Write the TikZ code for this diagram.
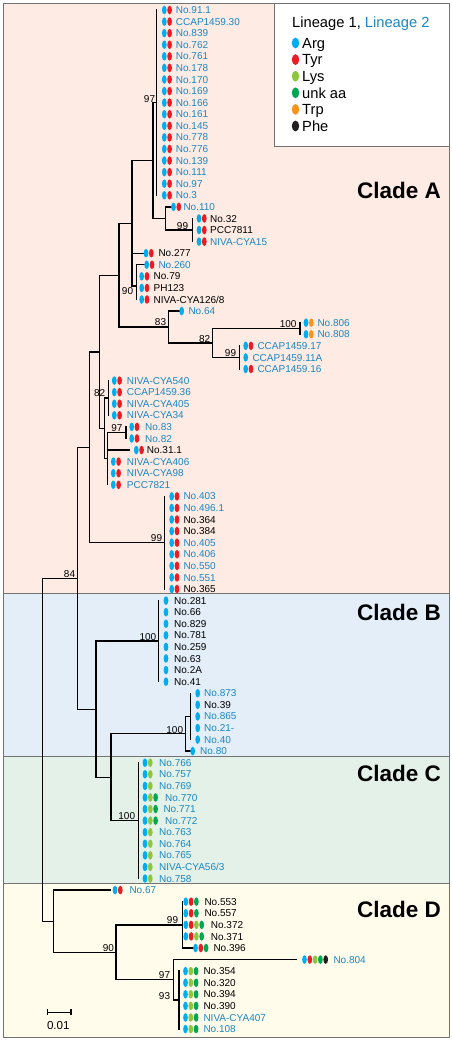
\documentclass[tikz,border=0pt]{standalone}
\usepackage{fontspec}
\setmainfont{Liberation Sans}
\definecolor{cA}{RGB}{0,174,239}
\definecolor{cT}{RGB}{237,28,36}
\definecolor{cL}{RGB}{141,198,63}
\definecolor{cU}{RGB}{0,166,81}
\definecolor{cW}{RGB}{247,148,29}
\definecolor{cF}{RGB}{35,31,32}
\definecolor{lb}{RGB}{25,135,195}
\definecolor{bgA}{RGB}{253,235,228}
\definecolor{bgB}{RGB}{227,238,249}
\definecolor{bgC}{RGB}{228,241,232}
\definecolor{bgD}{RGB}{255,252,235}
\definecolor{frm}{RGB}{115,115,115}
\newcommand\leaf[7]{%
  \pgfmathsetmacro\yy{10+11.58*#2}%
  \foreach \c [count=\k from 0] in {#4}{\fill[\c] ({#3+5.3*\k},\yy) ellipse [x radius=2.35, y radius=4.3];}%
  \node[tiplab,text=#7] (#1) at (#5,\yy+3.6) {#6};%
}
\begin{document}
\begin{tikzpicture}[x=1pt,y=-1pt,
  br/.style={line width=1.35pt, line cap=rect},
  tiplab/.style={font=\fontsize{10}{12}\selectfont, anchor=base west, inner sep=0pt},
  bs/.style={font=\fontsize{10}{12}\selectfont, anchor=base east, inner sep=0pt},
  cladelab/.style={font=\fontsize{22.5}{26}\selectfont\bfseries, anchor=base east, inner sep=0pt},
  leglab/.style={font=\fontsize{14.7}{17}\selectfont, anchor=base west, inner sep=0pt}]
\useasboundingbox (0,0) rectangle (452,1041);
\fill[white] (0,0) rectangle (452,1041);
% clade backgrounds
\fill[bgA] (3,3) rectangle (449,593);
\fill[bgB] (3,593) rectangle (449,756);
\fill[bgC] (3,756) rectangle (449,883);
\fill[bgD] (3,883) rectangle (449,1037);
\draw[frm, line width=0.9pt] (3,593) -- (449,593) (3,756) -- (449,756) (3,883) -- (449,883);
\draw[frm, line width=0.9pt] (3,3) rectangle (449,1037);
% clade labels
\node[cladelab] (cla) at (441,198) {Clade A};
\node[cladelab] (clb) at (441,620) {Clade B};
\node[cladelab] (clc) at (441,781) {Clade C};
\node[cladelab] (cld) at (441,917) {Clade D};
% legend
\node[draw=frm, fill=white, line width=0.9pt, inner sep=0pt, minimum width=175, minimum height=143, anchor=north west] (legend) at (274,3) {};
\node[leglab] (lhead) at (292,27.5) {Lineage 1, \textcolor{lb}{Lineage 2}};
\foreach \col/\txt [count=\k from 0] in {cA/Arg, cT/Tyr, cL/Lys, cU/unk aa, cW/Trp, cF/Phe}{
  \pgfmathsetmacro\ly{43+16.6*\k}
  \fill[\col] (295.5,\ly) ellipse [x radius=3.7, y radius=5.4];
  \node[leglab] (leg\k) at (302,\ly+5.4) {\txt};
}
% ---------------- tree ----------------
\coordinate (G1) at (156.7,102.6);
\coordinate (Na) at (153,160.5);
\coordinate (Nb) at (165.7,218.44);
\coordinate (N99a) at (192.7,230.02);
\coordinate (Nc) at (132,223.3);
\coordinate (N90) at (136.7,286);
\coordinate (Nd) at (119,275.5);
\coordinate (N83) at (168.3,327.0);
\coordinate (N82b) at (212.7,342.9);
\coordinate (N100a) at (300,328.45);
\coordinate (N99b) at (239.3,357.4);
\coordinate (Ne) at (99.5,351.9);
\coordinate (N82) at (104.3,428.3);
\coordinate (Nup) at (108.3,397.93);
\coordinate (Nlo) at (107.3,458.7);
\coordinate (N97a) at (126,432.67);
\coordinate (Nf) at (89.3,447.3);
\coordinate (N99c) at (164.3,542.68);
\coordinate (N84) at (77.7,578.2);
\coordinate (Ng) at (96,709.2);
\coordinate (NB1) at (158.3,641.1);
\coordinate (Nh) at (111,777.2);
\coordinate (NB2) at (185.7,733.8);
\coordinate (NB3) at (190.7,716.4);
\coordinate (NC) at (138.3,820.6);
\coordinate (R) at (42.3,749.7);
\coordinate (ND) at (53.3,921.2);
\coordinate (N90d) at (116,952.3);
\coordinate (N99d) at (182.7,924.82);
\coordinate (N97d) at (173.3,979.8);
\coordinate (N93) at (179,1000.1);
% free ends of tip branches
\coordinate (e110) at (171,206.86);
\coordinate (e277) at (144,253.18);
\coordinate (e260) at (144,264.76);
\coordinate (e64) at (179,311.08);
\coordinate (e311) at (129,450.04);
\coordinate (e80) at (190,751.12);
\coordinate (e67) at (110,890.08);
\coordinate (e396) at (193,947.98);
\coordinate (e804) at (296.7,959.56);
\begin{scope}[br]
\draw (156.7,10) -- (156.7,195.28);
\draw (Na) |- (G1);
\draw (Na) |- (Nb);
\draw (Nb) |- (e110);
\draw (Nb) |- (N99a);
\draw (192.7,218.44) -- (192.7,241.6);
\draw (Nc) |- (Na);
\draw (Nc) |- (e277);
\draw (Nc) |- (N90);
\draw (136.7,264.76) -- (136.7,299.5);
\draw (136.7,264.76) -- (e260);
\draw (Nd) |- (Nc);
\draw (Nd) |- (N83);
\draw (N83) |- (e64);
\draw (N83) |- (N82b);
\draw (N82b) |- (N100a);
\draw (N82b) |- (N99b);
\draw (300,322.66) -- (300,334.24);
\draw (239.3,345.82) -- (239.3,368.98);
\draw (Ne) |- (Nd);
\draw (Ne) |- (N82);
\draw (N82) |- (Nup);
\draw (N82) |- (Nlo);
\draw (108.3,380.56) -- (108.3,415.3);
\draw (Nlo) |- (N97a);
\draw (Nlo) |- (e311);
\draw (107.3,458.7) -- (107.3,484.78);
\draw (126,426.88) -- (126,438.46);
\draw (Nf) |- (Ne);
\draw (Nf) |- (N99c);
\draw (164.3,496.36) -- (164.3,589);
\draw (N84) |- (Nf);
\draw (N84) |- (Ng);
\draw (Ng) |- (NB1);
\draw (Ng) |- (Nh);
\draw (158.3,600.58) -- (158.3,681.64);
\draw (Nh) |- (NB2);
\draw (Nh) |- (NC);
\draw (NB2) |- (NB3);
\draw (NB2) |- (e80);
\draw (190.7,693.22) -- (190.7,739.54);
\draw (138.3,762.7) -- (138.3,878.5);
\draw (R) |- (N84);
\draw (R) |- (ND);
\draw (ND) |- (e67);
\draw (ND) |- (N90d);
\draw (N90d) |- (N99d);
\draw (N90d) |- (N97d);
\draw (182.7,901.66) -- (182.7,947.98);
\draw (182.7,947.98) -- (e396);
\draw (N97d) |- (e804);
\draw (N97d) |- (N93);
\draw (179,971.14) -- (179,1029.04);
% scale bar
\draw[line width=1.2pt] (47.7,1012.3) -- (71,1012.3);
\draw[line width=1.2pt] (47.7,1009.8) -- (47.7,1014.8) (71,1009.8) -- (71,1014.8);
\end{scope}
\node[font=\fontsize{11.6}{14}\selectfont, inner sep=0pt] (scale) at (58.3,1025) {0.01};
% bootstrap values
\node[bs] (b1) at (155.3,102.6) {97};
\node[bs] (b2) at (188.3,229.3) {99};
\node[bs] (b3) at (133.3,294.6) {90};
\node[bs] (b4) at (166.3,325.4) {83};
\node[bs] (b5) at (210.5,342.5) {82};
\node[bs] (b6) at (296.7,327.6) {100};
\node[bs] (b7) at (236.3,356.3) {99};
\node[bs] (b8) at (105.5,396.6) {82};
\node[bs] (b9) at (122.7,431.6) {97};
\node[bs] (b10) at (162.3,541.2) {99};
\node[bs] (b11) at (75.3,577) {84};
\node[bs] (b12) at (156.5,640.3) {100};
\node[bs] (b13) at (183.3,733.6) {100};
\node[bs] (b14) at (135.3,819.6) {100};
\node[bs] (b15) at (178.3,923.6) {99};
\node[bs] (b16) at (114.2,951.9) {90};
\node[bs] (b17) at (170.3,978.6) {97};
\node[bs] (b18) at (170.3,999.6) {93};
% ---------------- leaves ----------------
\leaf{t0}{0}{164.3}{cA,cT}{175.7}{No.91.1}{lb}
\leaf{t1}{1}{164.3}{cA,cT}{175.7}{CCAP1459.30}{lb}
\leaf{t2}{2}{164.3}{cA,cT}{175.7}{No.839}{lb}
\leaf{t3}{3}{164.3}{cA,cT}{175.7}{No.762}{lb}
\leaf{t4}{4}{164.3}{cA,cT}{175.7}{No.761}{lb}
\leaf{t5}{5}{164.3}{cA,cT}{175.7}{No.178}{lb}
\leaf{t6}{6}{164.3}{cA,cT}{175.7}{No.170}{lb}
\leaf{t7}{7}{164.3}{cA,cT}{175.7}{No.169}{lb}
\leaf{t8}{8}{164.3}{cA,cT}{175.7}{No.166}{lb}
\leaf{t9}{9}{164.3}{cA,cT}{175.7}{No.161}{lb}
\leaf{t10}{10}{164.3}{cA,cT}{175.7}{No.145}{lb}
\leaf{t11}{11}{164.3}{cA,cT}{175.7}{No.778}{lb}
\leaf{t12}{12}{164.3}{cA,cT}{175.7}{No.776}{lb}
\leaf{t13}{13}{164.3}{cA,cT}{175.7}{No.139}{lb}
\leaf{t14}{14}{164.3}{cA,cT}{175.7}{No.111}{lb}
\leaf{t15}{15}{164.3}{cA,cT}{175.7}{No.97}{lb}
\leaf{t16}{16}{164.3}{cA,cT}{175.7}{No.3}{lb}
\leaf{t17}{17}{173.5}{cA,cT}{183.3}{No.110}{lb}
\leaf{t18}{18}{199}{cA,cT}{210}{No.32}{black}
\leaf{t19}{19}{199}{cA,cT}{210}{PCC7811}{black}
\leaf{t20}{20}{199}{cA,cT}{210}{NIVA-CYA15}{lb}
\leaf{t21}{21}{146}{cA,cT}{158.3}{No.277}{black}
\leaf{t22}{22}{146.7}{cA,cT}{158.3}{No.260}{lb}
\leaf{t23}{23}{141.7}{cA,cT}{153.5}{No.79}{black}
\leaf{t24}{24}{141.7}{cA,cT}{153.5}{PH123}{black}
\leaf{t25}{25}{141.7}{cA,cT}{153.5}{NIVA-CYA126/8}{black}
\leaf{t26}{26}{181.7}{cA}{188.3}{No.64}{lb}
\leaf{t27}{27}{306}{cA,cW}{317.3}{No.806}{lb}
\leaf{t28}{28}{306}{cA,cW}{317.3}{No.808}{lb}
\leaf{t29}{29}{245.7}{cA,cT}{257.3}{CCAP1459.17}{lb}
\leaf{t30}{30}{245.7}{cA}{252.3}{CCAP1459.11A}{lb}
\leaf{t31}{31}{245.7}{cA,cT}{257.3}{CCAP1459.16}{lb}
\leaf{t32}{32}{114.3}{cA,cT}{126.7}{NIVA-CYA540}{lb}
\leaf{t33}{33}{114.3}{cA,cT}{126.7}{CCAP1459.36}{lb}
\leaf{t34}{34}{114.3}{cA,cT}{126.7}{NIVA-CYA405}{lb}
\leaf{t35}{35}{114.3}{cA,cT}{126.7}{NIVA-CYA34}{lb}
\leaf{t36}{36}{131.7}{cA,cT}{145}{No.83}{lb}
\leaf{t37}{37}{131.7}{cA,cT}{145}{No.82}{lb}
\leaf{t38}{38}{136.3}{cA,cT}{146.7}{No.31.1}{black}
\leaf{t39}{39}{113.3}{cA,cT}{126.7}{NIVA-CYA406}{lb}
\leaf{t40}{40}{113.3}{cA,cT}{126.7}{NIVA-CYA98}{lb}
\leaf{t41}{41}{113.3}{cA,cT}{126.7}{PCC7821}{lb}
\leaf{t42}{42}{171.7}{cA,cT}{183.3}{No.403}{lb}
\leaf{t43}{43}{171.7}{cA,cT}{183.3}{No.496.1}{lb}
\leaf{t44}{44}{171.7}{cA,cT}{183.3}{No.364}{black}
\leaf{t45}{45}{171.7}{cA,cT}{183.3}{No.384}{black}
\leaf{t46}{46}{171.7}{cA,cT}{183.3}{No.405}{lb}
\leaf{t47}{47}{171.7}{cA,cT}{183.3}{No.406}{lb}
\leaf{t48}{48}{171.7}{cA,cT}{183.3}{No.550}{lb}
\leaf{t49}{49}{171.7}{cA,cT}{183.3}{No.551}{lb}
\leaf{t50}{50}{171.7}{cA,cT}{183.3}{No.365}{black}
\leaf{t51}{51}{166}{cA}{174}{No.281}{black}
\leaf{t52}{52}{166}{cA}{174}{No.66}{black}
\leaf{t53}{53}{166}{cA}{174}{No.829}{black}
\leaf{t54}{54}{166}{cA}{174}{No.781}{black}
\leaf{t55}{55}{166}{cA}{174}{No.259}{black}
\leaf{t56}{56}{166}{cA}{174}{No.63}{black}
\leaf{t57}{57}{166}{cA}{174}{No.2A}{black}
\leaf{t58}{58}{166}{cA}{174}{No.41}{black}
\leaf{t59}{59}{197.7}{cA}{204}{No.873}{lb}
\leaf{t60}{60}{197.7}{cA}{204}{No.39}{black}
\leaf{t61}{61}{197.7}{cA}{204}{No.865}{lb}
\leaf{t62}{62}{197.7}{cA}{204}{No.21-}{lb}
\leaf{t63}{63}{197.7}{cA}{204}{No.40}{lb}
\leaf{t64}{64}{192.7}{cA}{200}{No.80}{lb}
\leaf{t65}{65}{145}{cA,cL}{159}{No.766}{lb}
\leaf{t66}{66}{145}{cA,cL}{159}{No.757}{lb}
\leaf{t67}{67}{145}{cA,cL}{159}{No.769}{lb}
\leaf{t68}{68}{145}{cA,cL,cU}{165}{No.770}{lb}
\leaf{t69}{69}{145}{cA,cL,cU}{163.3}{No.771}{lb}
\leaf{t70}{70}{145}{cA,cL,cU}{165}{No.772}{lb}
\leaf{t71}{71}{145}{cA,cL}{159}{No.763}{lb}
\leaf{t72}{72}{145}{cA,cL}{159}{No.764}{lb}
\leaf{t73}{73}{145}{cA,cL}{159}{No.765}{lb}
\leaf{t74}{74}{145}{cA,cL}{159}{NIVA-CYA56/3}{lb}
\leaf{t75}{75}{145}{cA,cL}{159}{No.758}{lb}
\leaf{t76}{76}{115}{cA,cT}{129.3}{No.67}{lb}
\leaf{t77}{77}{185.8}{cA,cT,cU}{204.3}{No.553}{black}
\leaf{t78}{78}{185.8}{cA,cT,cU}{204.3}{No.557}{black}
\leaf{t79}{79}{185.8}{cA,cT,cL,cU}{210.7}{No.372}{black}
\leaf{t80}{80}{185.8}{cA,cT,cL,cU}{210.7}{No.371}{black}
\leaf{t81}{81}{195.5}{cA,cT,cU}{213.3}{No.396}{black}
\leaf{t82}{82}{304.5}{cA,cT,cL,cU,cF}{333.3}{No.804}{lb}
\leaf{t83}{83}{185.5}{cA,cL,cU}{203.3}{No.354}{black}
\leaf{t84}{84}{185.5}{cA,cL,cU}{203.3}{No.320}{black}
\leaf{t85}{85}{185.5}{cA,cL,cU}{203.3}{No.394}{black}
\leaf{t86}{86}{185.5}{cA,cL,cU}{203.3}{No.390}{black}
\leaf{t87}{87}{185.5}{cA,cL,cU}{203.3}{NIVA-CYA407}{lb}
\leaf{t88}{88}{185.5}{cA,cL,cU}{203.3}{No.108}{lb}
\end{tikzpicture}
\end{document}
